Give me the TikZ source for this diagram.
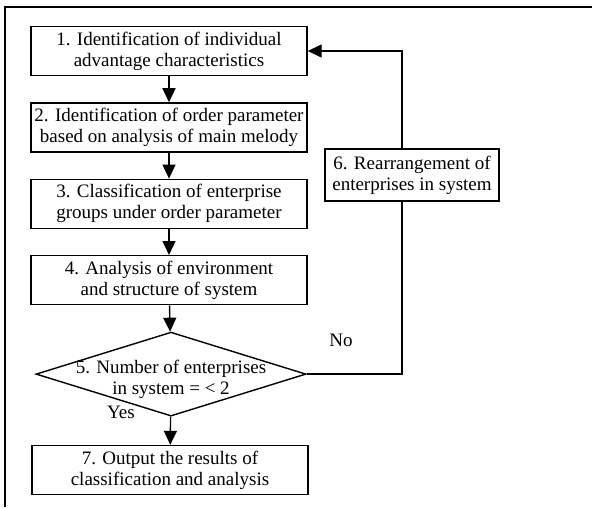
\documentclass[tikz,border=0pt]{standalone}
\usepackage{fontspec}
\setmainfont{Liberation Serif}
\usetikzlibrary{positioning, arrows.meta, calc, shapes.geometric}

\begin{document}
\begin{tikzpicture}[
    x=1pt, y=-1pt,
    font=\fontsize{19}{21}\selectfont,
    node distance=26pt and 20pt,
    stepbox/.style={rectangle, draw, line width=1.4pt, minimum width=#1,
        minimum height=49pt, align=center, inner sep=2pt},
    stepbox/.default=276pt,
    decision/.style={diamond, draw, line width=1.4pt, minimum width=270pt,
        minimum height=84pt, inner sep=0pt},
    flow/.style={-{Triangle[length=14pt, width=13pt]}, line width=1.4pt},
]
\useasboundingbox (0,0) rectangle (592,507);

% ---- Frame ----
\draw[line width=1.5pt] (5,507) -- (5,7) -- (592,7);

% ---- Main column ----
\node[stepbox] (s1) at (169,51)
    {1. Identification of individual\\advantage characteristics};
\node[stepbox, below=of s1] (s2)
    {2. Identification of order parameter\\based on analysis of main melody};
\node[stepbox, below=of s2] (s3)
    {3. Classification of enterprise\\groups under order parameter};
\node[stepbox, below=of s3] (s4)
    {4. Analysis of environment\\and structure of system};
\node[decision, below=of s4, xshift=2pt,
      label={[align=center, yshift=-5pt]center:5. Number of enterprises\\in system = < 2}] (s5) {};
\node[stepbox, below=28pt of s5, xshift=-1pt] (s7)
    {7. Output the results of\\classification and analysis};

% ---- Feedback box ----
\node[stepbox=174pt, minimum height=52pt] (s6) at (412,175)
    {6. Rearrangement of\\enterprises in system};
\coordinate (fb) at (402,0);

% ---- Arrows ----
\draw[flow] (s1) -- (s2);
\draw[flow] (s2) -- (s3);
\draw[flow] (s3) -- (s4);
\draw[flow] (s4) -- (s5);
\draw[flow] (s5) -- (s7);
\draw[line width=1.4pt] (s5.east) -- (s5.east -| fb) -- (s6.south -| fb);
\draw[flow] (s6.north -| fb) -- (s1.east -| fb) -- (s1.east);

% ---- Branch labels ----
\node at (341,340) {No};
\node at (121,412) {Yes};

\end{tikzpicture}
\end{document}
